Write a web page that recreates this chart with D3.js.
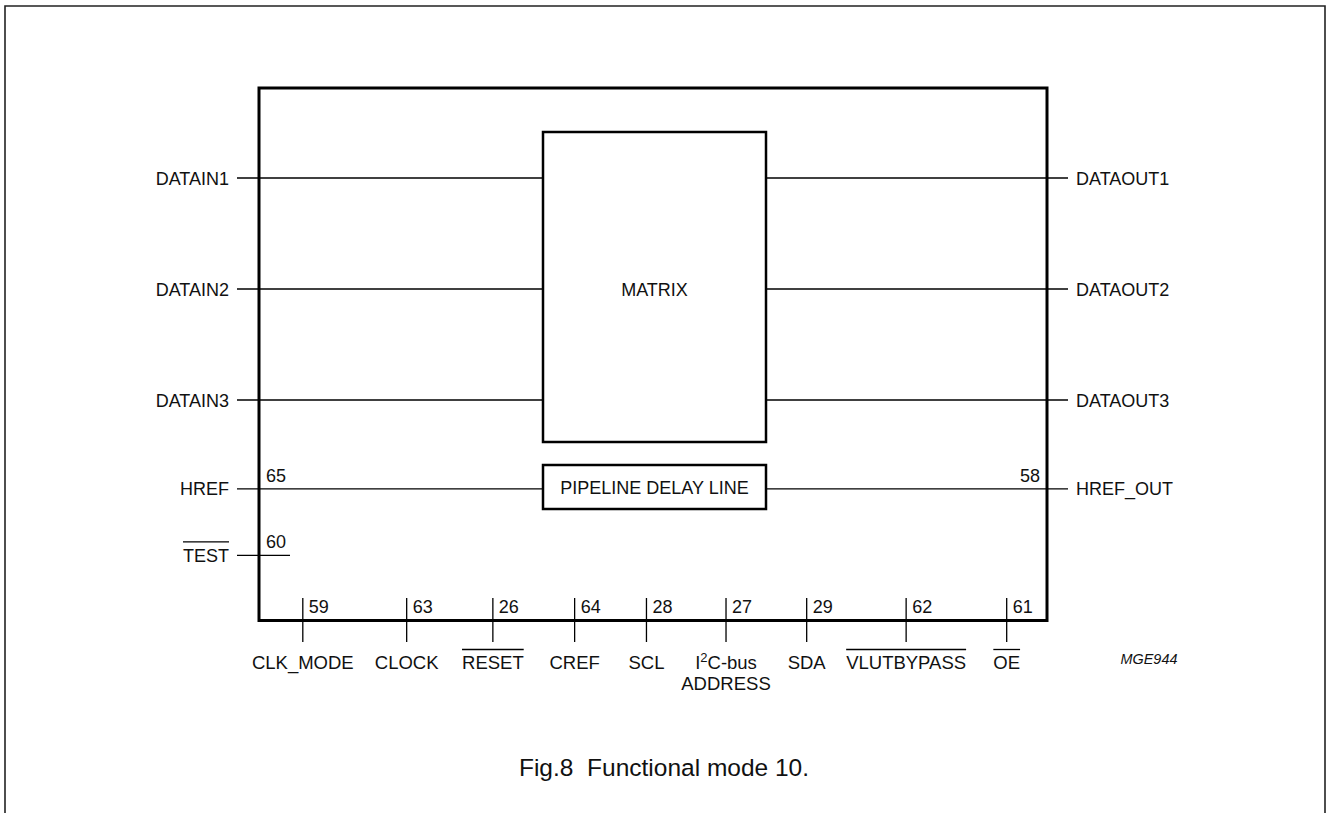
<!DOCTYPE html>
<html>
<head>
<meta charset="utf-8">
<script src="https://cdn.jsdelivr.net/npm/d3@7"></script>
<style>
  html, body { margin: 0; padding: 0; background: #fff; }
  svg { display: block; font-family: "Liberation Sans", Arial, sans-serif; }
  text { fill: #111; }
</style>
</head>
<body>
<svg id="diagram" width="1326" height="813"></svg>
<script>
// pins entering the block on the left
const leftPins = ['DATAIN1', 'DATAIN2', 'DATAIN3', 'HREF', 'TEST'];
const leftPinNum = ['', '', '', '65', '60'];
const leftPinBar = [false, false, false, false, true];
const leftPinRow = [0, 1, 2, 2.8, 3.4];

// pins leaving the block on the right
const rightPins = ['DATAOUT1', 'DATAOUT2', 'DATAOUT3', 'HREF_OUT'];
const rightPinNum = ['', '', '', '58'];
const rightPinRow = [0, 1, 2, 2.8];

// pins along the bottom edge
const bottomPins = ['CLK_MODE', 'CLOCK', 'RESET', 'CREF', 'SCL', 'I2C-bus ADDRESS', 'SDA', 'VLUTBYPASS', 'OE'];
const bottomPinNum = ['59', '63', '26', '64', '28', '27', '29', '62', '61'];
const bottomPinBar = [false, false, true, false, false, false, false, true, true];
const bottomPinCol = [0.41, 1.35, 2.13, 2.87, 3.52, 4.24, 4.97, 5.87, 6.78];

const blocks = ['MATRIX', 'PIPELINE DELAY LINE'];
const caption = 'Fig.8  Functional mode 10.';
const figCode = 'MGE944';

const svg = d3.select('#diagram');

// row index -> y, column index -> x
const y = d3.scaleLinear().domain([0, 1]).range([178, 289]);
const x = d3.scaleLinear().domain([0, 1]).range([257.5, 368]);

const box = {x0: 259, x1: 1047, y0: 88, y1: 620.5};
const matrix = {x0: 543, x1: 766, y0: 132, y1: 442};
const pipe = {x0: 543, x1: 766, y0: 465, y1: 509};

// outer frame (runs off the bottom)
svg.append('path')
  .attr('d', 'M5,820 V6 H1325 V820')
  .attr('fill', 'none')
  .attr('stroke', '#222')
  .attr('stroke-width', 1.6);

// main IC outline
svg.append('rect')
  .attr('x', box.x0).attr('y', box.y0)
  .attr('width', box.x1 - box.x0).attr('height', box.y1 - box.y0)
  .attr('fill', 'none').attr('stroke', '#000').attr('stroke-width', 3);

// left pin lines
svg.selectAll('.lpin')
  .data(leftPins)
  .enter()
  .append('line')
  .attr('class', 'lpin')
  .attr('x1', 237)
  .attr('x2', (d, i) => i === 4 ? 290 : matrix.x0)
  .attr('y1', (d, i) => y(leftPinRow[i]))
  .attr('y2', (d, i) => y(leftPinRow[i]))
  .attr('stroke', '#000').attr('stroke-width', 1.3);

const lLabels = svg.selectAll('.llab')
  .data(leftPins)
  .enter()
  .append('text')
  .attr('class', 'llab')
  .attr('x', 229)
  .attr('y', (d, i) => y(leftPinRow[i]) + 6.5)
  .attr('text-anchor', 'end')
  .attr('font-size', 18)
  .text(d => d);

// overbar on active-low left pins
lLabels.each(function(d, i) {
  if (!leftPinBar[i]) return;
  const bb = this.getBBox();
  svg.append('line')
    .attr('x1', bb.x).attr('x2', bb.x + bb.width)
    .attr('y1', y(leftPinRow[i]) - 13.5).attr('y2', y(leftPinRow[i]) - 13.5)
    .attr('stroke', '#000').attr('stroke-width', 1.3);
});

svg.selectAll('.lnum')
  .data(leftPinNum.filter(d => d))
  .enter()
  .append('text')
  .attr('x', 266)
  .attr('y', (d, i) => y(leftPinRow[3 + i]) - 7)
  .attr('font-size', 18)
  .text(d => d);

// right pin lines
svg.selectAll('.rpin')
  .data(rightPins)
  .enter()
  .append('line')
  .attr('x1', matrix.x1)
  .attr('x2', 1068)
  .attr('y1', (d, i) => y(rightPinRow[i]))
  .attr('y2', (d, i) => y(rightPinRow[i]))
  .attr('stroke', '#000').attr('stroke-width', 1.3);

svg.selectAll('.rlab')
  .data(rightPins)
  .enter()
  .append('text')
  .attr('x', 1076)
  .attr('y', (d, i) => y(rightPinRow[i]) + 6.5)
  .attr('font-size', 18)
  .text(d => d);

svg.selectAll('.rnum')
  .data(rightPinNum.filter(d => d))
  .enter()
  .append('text')
  .attr('x', 1040)
  .attr('y', (d, i) => y(rightPinRow[3 + i]) - 7)
  .attr('text-anchor', 'end')
  .attr('font-size', 18)
  .text(d => d);

// inner blocks
[matrix, pipe].forEach((b, i) => {
  svg.append('rect')
    .attr('x', b.x0).attr('y', b.y0)
    .attr('width', b.x1 - b.x0).attr('height', b.y1 - b.y0)
    .attr('fill', '#fff').attr('stroke', '#000').attr('stroke-width', 2.5);
  svg.append('text')
    .attr('x', (b.x0 + b.x1) / 2)
    .attr('y', i === 0 ? y(1) + 6.5 : (b.y0 + b.y1) / 2 + 6.5)
    .attr('text-anchor', 'middle')
    .attr('font-size', 18)
    .text(blocks[i]);
});

// bottom pins
svg.selectAll('.bpin')
  .data(bottomPins)
  .enter()
  .append('line')
  .attr('x1', (d, i) => x(bottomPinCol[i]))
  .attr('x2', (d, i) => x(bottomPinCol[i]))
  .attr('y1', 598).attr('y2', 642)
  .attr('stroke', '#000').attr('stroke-width', 1.3);

svg.selectAll('.bnum')
  .data(bottomPinNum)
  .enter()
  .append('text')
  .attr('x', (d, i) => x(bottomPinCol[i]) + 6)
  .attr('y', 613)
  .attr('font-size', 18)
  .text(d => d);

const bLabels = svg.selectAll('.blab')
  .data(bottomPins)
  .enter()
  .append('text')
  .attr('x', (d, i) => x(bottomPinCol[i]))
  .attr('y', 669)
  .attr('text-anchor', 'middle')
  .attr('font-size', 18.5);

bLabels.each(function(d, i) {
  const t = d3.select(this);
  if (d.startsWith('I2C')) {
    t.append('tspan').text('I');
    t.append('tspan').attr('dy', -7).attr('font-size', 13).text('2');
    t.append('tspan').attr('dy', 7).text('C-bus');
    t.append('tspan').attr('x', x(bottomPinCol[i])).attr('dy', 21).text('ADDRESS');
  } else {
    t.text(d);
  }
  if (bottomPinBar[i]) {
    const bb = this.getBBox();
    svg.append('line')
      .attr('x1', bb.x).attr('x2', bb.x + bb.width)
      .attr('y1', 649.5).attr('y2', 649.5)
      .attr('stroke', '#000').attr('stroke-width', 1.3);
  }
});

svg.append('text')
  .attr('x', 1149).attr('y', 664)
  .attr('text-anchor', 'middle')
  .attr('font-size', 14.4)
  .attr('font-style', 'italic')
  .text(figCode);

svg.append('text')
  .attr('x', 664).attr('y', 776)
  .attr('text-anchor', 'middle')
  .attr('font-size', 24.5)
  .attr('xml:space', 'preserve')
  .style('white-space', 'pre')
  .text(caption);
</script>
</body>
</html>
